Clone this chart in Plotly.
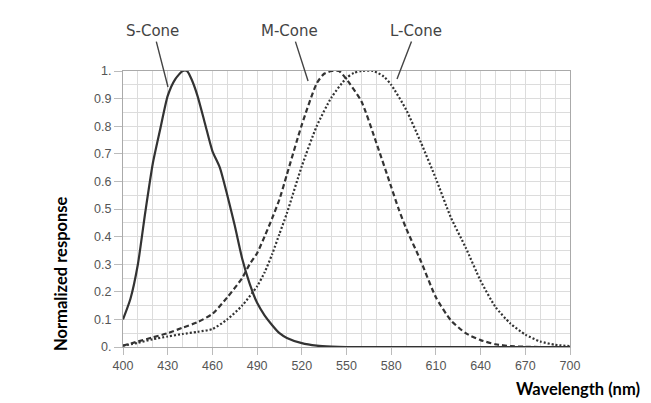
import plotly.graph_objects as go

# ---- data ----
s_wl = [400, 405, 410, 415, 420, 425, 430, 435, 440, 443, 446, 450, 455, 460, 465, 470, 475, 480, 485, 490,
        495, 500, 505, 510, 520, 530, 540, 550, 600, 650, 700]
s_val = [0.10, 0.175, 0.30, 0.49, 0.665, 0.79, 0.91, 0.97, 1.00, 1.00, 0.97, 0.91, 0.81, 0.71, 0.65, 0.55,
         0.44, 0.32, 0.23, 0.16, 0.115, 0.08, 0.05, 0.033, 0.014, 0.005, 0.0015, 0.0, 0.0, 0.0, 0.0]

m_wl = [400, 410, 420, 430, 440, 450, 460, 470, 480, 485, 490, 495, 500, 505, 510, 520, 530, 535, 540, 545,
        550, 560, 570, 580, 585, 590, 600, 610, 620, 630, 640, 650, 660, 670, 680, 700]
m_val = [0.005, 0.02, 0.035, 0.05, 0.07, 0.09, 0.12, 0.18, 0.25, 0.30, 0.34, 0.40, 0.465, 0.535, 0.625, 0.805,
         0.955, 0.99, 1.00, 1.00, 0.97, 0.89, 0.74, 0.58, 0.50, 0.43, 0.31, 0.18, 0.097, 0.05, 0.025, 0.01,
         0.003, 0.001, 0.0, 0.0]

l_wl = [400, 410, 420, 430, 440, 450, 460, 470, 480, 490, 495, 500, 505, 510, 520, 530, 540, 550, 555,
        560, 568, 575, 580, 590, 600, 610, 620, 630, 640, 650, 660, 670, 680, 690, 700]
l_val = [0.005, 0.015, 0.028, 0.038, 0.047, 0.055, 0.065, 0.10, 0.15, 0.22, 0.27, 0.335, 0.41, 0.485, 0.655,
         0.80, 0.905, 0.975, 0.993, 1.00, 1.00, 0.98, 0.95, 0.86, 0.74, 0.61, 0.47, 0.36, 0.24, 0.145,
         0.085, 0.045, 0.02, 0.008, 0.003]

x_ticks = [400, 430, 460, 490, 520, 550, 580, 610, 640, 670, 700]
y_ticks = [0, 0.1, 0.2, 0.3, 0.4, 0.5, 0.6, 0.7, 0.8, 0.9, 1.0]
y_tick_text = ["0.", "0.1", "0.2", "0.3", "0.4", "0.5", "0.6", "0.7", "0.8", "0.9", "1."]

cone_names = ["S-Cone", "M-Cone", "L-Cone"]
label_pos = [(420, 1.145), (512, 1.145), (596.6, 1.145)]
pointer_from = [(422.1, 1.112), (515.4, 1.112), (594, 1.112)]
pointer_to = [(430.2, 0.942), (524.2, 0.964), (583.9, 0.971)]

# ---- figure ----
fig = go.Figure()
line_col = "#333333"
fig.add_trace(go.Scatter(x=s_wl, y=s_val, mode="lines", name="S-Cone",
                         line=dict(color=line_col, width=2.2, shape="spline", smoothing=0.6)))
fig.add_trace(go.Scatter(x=m_wl, y=m_val, mode="lines", name="M-Cone",
                         line=dict(color=line_col, width=2.2, dash="5px,3px", shape="spline", smoothing=0.6)))
fig.add_trace(go.Scatter(x=l_wl, y=l_val, mode="lines", name="L-Cone",
                         line=dict(color=line_col, width=2.2, dash="2px,2px", shape="spline", smoothing=0.6)))

L, R, T, B = 123, 81, 71, 56
W, H = 651, 403
pw, ph = W - L - R, H - T - B
grid_col = "#dcdcdc"
tick_font = dict(family="Liberation Sans, Arial", size=12.5, color="#555555")
fig.update_layout(
    width=W, height=H,
    margin=dict(l=L, r=R, t=T, b=B),
    paper_bgcolor="white", plot_bgcolor="white",
    showlegend=False,
    xaxis=dict(range=[400, 700], tickvals=x_ticks, ticks="outside", ticklen=7, tickcolor="#bbbbbb",
               showgrid=True, gridcolor=grid_col, gridwidth=1,
               minor=dict(dtick=10, showgrid=True, gridcolor=grid_col, gridwidth=1),
               showline=True, linecolor="#aaaaaa", linewidth=1, mirror=True,
               tickfont=tick_font, zeroline=False, fixedrange=True),
    yaxis=dict(range=[0, 1], tickvals=y_ticks, ticktext=y_tick_text, ticks="outside", ticklen=8,
               tickcolor="#bbbbbb",
               showgrid=True, gridcolor=grid_col, gridwidth=1,
               minor=dict(dtick=0.05, showgrid=True, gridcolor=grid_col, gridwidth=1),
               showline=True, linecolor="#aaaaaa", linewidth=1, mirror=True,
               tickfont=tick_font, zeroline=False, fixedrange=True),
)

def px_to_paper(xp, yp):
    return (xp - L) / pw, (H - B - yp) / ph

anns = []
for name, (tx, ty), (fx, fy), (px, py) in zip(cone_names, label_pos, pointer_from, pointer_to):
    anns.append(dict(x=(tx - 400) / 300, y=ty, xref="paper", yref="paper", text=name, showarrow=False,
                     xanchor="center", yanchor="middle",
                     font=dict(family="DejaVu Sans", size=15, color="#444444")))
    anns.append(dict(x=px, y=py, xref="x", yref="y", ax=fx, ay=fy, axref="x", ayref="y",
                     text="", showarrow=True, arrowhead=0, arrowwidth=1.4, arrowcolor="#444444"))

yx, yy = px_to_paper(61, 273)
anns.append(dict(x=yx, y=yy, xref="paper", yref="paper", text="<b>Normalized response</b>",
                 showarrow=False, textangle=-90, xanchor="center", yanchor="middle",
                 font=dict(family="Lato", size=16.5, color="black")))
xx, xy = px_to_paper(578, 389)
anns.append(dict(x=xx, y=xy, xref="paper", yref="paper", text="<b>Wavelength (nm)</b>",
                 showarrow=False, xanchor="center", yanchor="middle",
                 font=dict(family="Lato", size=16.5, color="black")))
fig.update_layout(annotations=anns)

fig.write_html("out.html")
